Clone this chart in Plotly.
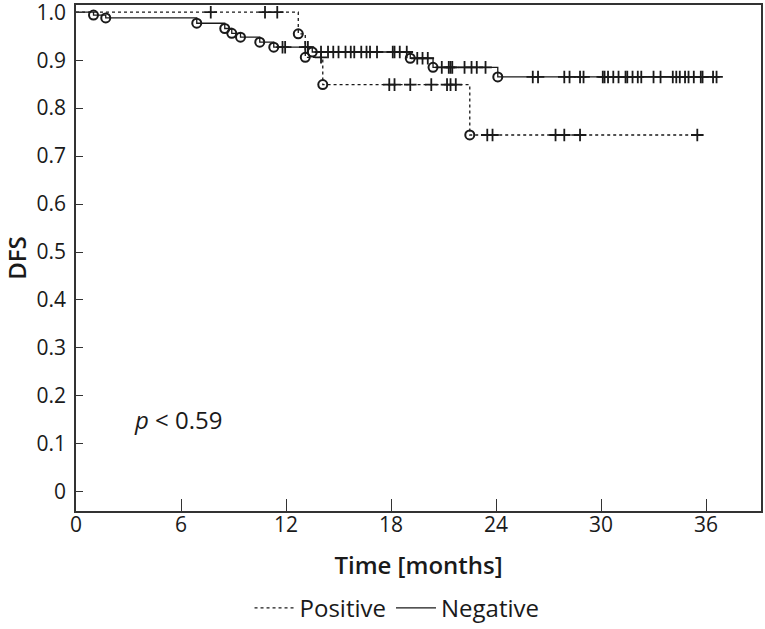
import plotly.graph_objects as go

# ---- data ----
# Negative group (solid): step times (months) and survival after each event
neg_event_t = [0, 1.0, 1.7, 6.9, 8.5, 8.9, 9.4, 10.5, 11.3, 13.5, 19.1, 20.4, 24.1]
neg_event_s = [1.0, 0.994, 0.988, 0.977, 0.966, 0.956, 0.948, 0.9375, 0.927, 0.917, 0.904, 0.885, 0.865]
neg_end_t = 36.8
neg_censor_t = [11.8, 11.95, 13.1, 13.25,
                14.0, 14.4, 14.7, 15.0, 15.4, 15.7, 15.9, 16.3, 16.6, 16.8, 17.2, 18.1, 18.2, 18.5, 18.9,
                19.5, 19.8, 20.1,
                20.9, 21.3, 21.4, 21.5, 22.2, 22.6, 22.9, 23.4,
                26.1, 26.4, 27.9, 28.2, 28.8, 29.0, 30.1, 30.2, 30.4, 30.7, 31.0, 31.4, 31.5, 31.8,
                32.1, 32.3, 33.0, 33.4, 34.1, 34.3, 34.5, 34.8, 35.0, 35.3, 35.7, 35.8, 36.4, 36.6]

# Positive group (dashed)
pos_event_t = [0, 12.7, 13.1, 14.1, 22.5]
pos_event_s = [1.0, 0.955, 0.906, 0.849, 0.744]
pos_end_t = 35.5
pos_censor_t = [7.7, 10.8, 11.5, 14.0, 17.9, 18.2, 19.1, 20.3, 21.2, 21.4, 21.7,
                23.5, 23.8, 27.4, 27.9, 28.8, 35.5]

x_ticks = [0, 6, 12, 18, 24, 30, 36]
y_ticks = [0, 0.1, 0.2, 0.3, 0.4, 0.5, 0.6, 0.7, 0.8, 0.9, 1.0]
y_ticktext = ["0", "0.1", "0.2", "0.3", "0.4", "0.5", "0.6", "0.7", "0.8", "0.9", "1.0"]


def surv_at(t, ev_t, ev_s):
    s = ev_s[0]
    for et, es in zip(ev_t, ev_s):
        if et <= t:
            s = es
    return s


FONT = "Open Sans"
BLACK = "#1a1a1a"

fig = go.Figure()


def add_group(name, ev_t, ev_s, end_t, cens_t, dash):
    xs = list(ev_t) + [end_t]
    ys = list(ev_s) + [ev_s[-1]]
    fig.add_trace(go.Scatter(x=xs, y=ys, mode="lines", line_shape="hv", name=name,
                             line=dict(color=BLACK, width=1.3, dash=dash)))
    fig.add_trace(go.Scatter(x=ev_t[1:], y=ev_s[1:], mode="markers", showlegend=False,
                             marker=dict(symbol="circle-open", size=9, color=BLACK,
                                         line=dict(width=2, color=BLACK))))
    fig.add_trace(go.Scatter(x=cens_t, y=[surv_at(t, ev_t, ev_s) for t in cens_t],
                             mode="markers", showlegend=False,
                             marker=dict(symbol="cross-thin", size=9, color=BLACK,
                                         line=dict(width=1.8, color=BLACK))))


add_group("Positive", pos_event_t, pos_event_s, pos_end_t, pos_censor_t, "3px,3px")
add_group("Negative", neg_event_t, neg_event_s, neg_end_t, neg_censor_t, "solid")

fig.add_annotation(x=3.2, y=0.15, xref="x", yref="y", xanchor="left", yanchor="middle",
                   text="<i>p</i> < 0.59", showarrow=False,
                   font=dict(family=FONT, size=24, color=BLACK))

axis_common = dict(showgrid=False, zeroline=False, showline=True, mirror=True,
                   linecolor="#333333", linewidth=1.5, ticks="inside",
                   tickcolor="#333333", tickwidth=1.3, automargin=False,
                   ticklabeloverflow="allow",
                   tickfont=dict(family=FONT, size=21, color=BLACK))

fig.update_layout(
    width=765, height=629,
    margin=dict(l=76, r=4, t=5, b=118),
    paper_bgcolor="white", plot_bgcolor="white",
    xaxis=dict(range=[0, 39.14], tickvals=x_ticks, ticklen=12, ticklabelstandoff=-6,
               title=dict(text="Time [months]", standoff=20,
                          font=dict(family=FONT, size=24, color=BLACK, weight=600)),
               **axis_common),
    yaxis=dict(range=[-0.04, 1.015], tickvals=y_ticks, ticktext=y_ticktext, ticklen=7,
               ticklabelstandoff=4,
               title=dict(text="DFS", standoff=20,
                          font=dict(family=FONT, size=24, color=BLACK, weight=600)),
               **axis_common),
    legend=dict(orientation="h", xref="container", yref="container",
                x=0.519, y=0.033, xanchor="center", yanchor="middle",
                font=dict(family=FONT, size=24, color=BLACK),
                itemwidth=40, bgcolor="rgba(0,0,0,0)"),
    showlegend=True,
)

fig.write_html("out.html", config={"displayModeBar": False},
               post_script="document.body.style.margin='0px';document.body.style.overflow='hidden';")
